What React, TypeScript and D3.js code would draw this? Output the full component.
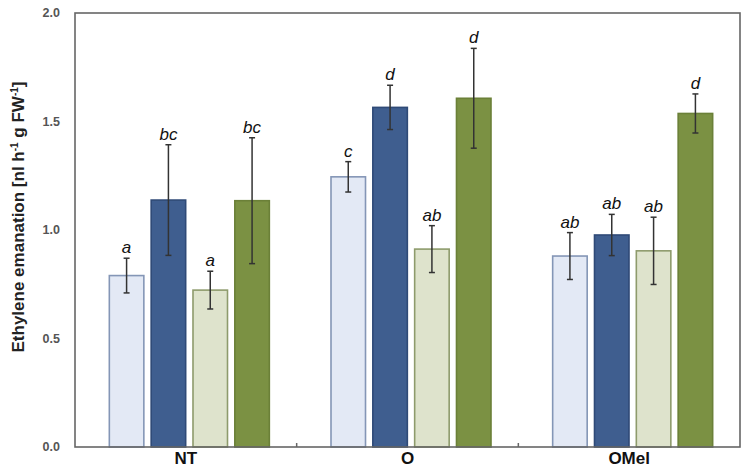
import React, { useEffect, useRef } from "react";
import * as d3 from "d3";

const width = 744;
const height = 474;
const margin = { top: 13, right: 4, bottom: 27, left: 75 };

const groups = ["NT", "O", "OMel"];
const seriesKeys = ["s1", "s2", "s3", "s4"];

// mean ethylene per treatment group, one array per series
const s1Mean = [0.79, 1.245, 0.88];
const s2Mean = [1.138, 1.565, 0.977];
const s3Mean = [0.723, 0.912, 0.904];
const s4Mean = [1.135, 1.607, 1.537];

const s1Err = [0.08, 0.07, 0.108];
const s2Err = [0.255, 0.102, 0.095];
const s3Err = [0.087, 0.108, 0.155];
const s4Err = [0.29, 0.23, 0.09];

const s1Letters = ["a", "c", "ab"];
const s2Letters = ["bc", "d", "ab"];
const s3Letters = ["a", "ab", "ab"];
const s4Letters = ["bc", "d", "d"];

const yTicks = [0, 0.5, 1.0, 1.5, 2.0];

const fills = ["#e3e9f5", "#3f5e8f", "#dee3cc", "#7b9143"];
const strokes = ["#8496b6", "#2f4a77", "#8e9b6c", "#6b8038"];

const font = "Liberation Sans, Arial, sans-serif";

const App = () => {
  const ref = useRef<SVGSVGElement>(null);

  useEffect(() => {
    const svg = d3.select(ref.current);
    svg.selectAll("*").remove();

    const means = [s1Mean, s2Mean, s3Mean, s4Mean];
    const errs = [s1Err, s2Err, s3Err, s4Err];
    const letters = [s1Letters, s2Letters, s3Letters, s4Letters];

    const rows = groups.flatMap((g, gi) =>
      seriesKeys.map((k, si) => ({
        group: g,
        key: k,
        si,
        value: means[si][gi],
        err: errs[si][gi],
        letter: letters[si][gi],
      }))
    );

    const x0 = d3
      .scaleBand()
      .domain(groups)
      .range([margin.left, width - margin.right])
      .padding(0);
    // inner band: 4 bars, 33px wide on a 40px step
    const x1 = d3
      .scaleBand()
      .domain(seriesKeys)
      .range([0, 160])
      .paddingInner(7 / 40)
      .paddingOuter(0);
    const groupOffset = (x0.bandwidth() - 160 + 7) / 2;

    const y = d3
      .scaleLinear()
      .domain([0, 2])
      .range([height - margin.bottom, margin.top]);

    const bx = (d) => x0(d.group) + groupOffset + x1(d.key);

    // bars
    svg
      .append("g")
      .selectAll("rect")
      .data(rows)
      .join("rect")
      .attr("x", (d) => bx(d))
      .attr("y", (d) => y(d.value))
      .attr("width", x1.bandwidth())
      .attr("height", (d) => y(0) - y(d.value))
      .attr("fill", (d) => fills[d.si])
      .attr("stroke", (d) => strokes[d.si])
      .attr("stroke-width", 1.6);

    // error bars
    const eb = svg
      .append("g")
      .attr("stroke", "#333")
      .attr("stroke-width", 1.5)
      .selectAll("g")
      .data(rows)
      .join("g")
      .attr("transform", (d) => `translate(${bx(d) + x1.bandwidth() / 2},0)`);
    eb.append("line")
      .attr("y1", (d) => y(d.value + d.err))
      .attr("y2", (d) => y(d.value - d.err));
    eb.append("line")
      .attr("x1", -3)
      .attr("x2", 3)
      .attr("y1", (d) => y(d.value + d.err))
      .attr("y2", (d) => y(d.value + d.err));
    eb.append("line")
      .attr("x1", -3)
      .attr("x2", 3)
      .attr("y1", (d) => y(d.value - d.err))
      .attr("y2", (d) => y(d.value - d.err));

    // significance letters
    svg
      .append("g")
      .selectAll("text")
      .data(rows)
      .join("text")
      .attr("x", (d) => bx(d) + x1.bandwidth() / 2)
      .attr("y", (d) => y(d.value + d.err) - 5)
      .attr("text-anchor", "middle")
      .attr("font-family", font)
      .attr("font-style", "italic")
      .attr("font-size", 17)
      .attr("fill", "#111")
      .text((d) => d.letter);

    // frame
    svg
      .append("rect")
      .attr("x", margin.left)
      .attr("y", margin.top)
      .attr("width", width - margin.right - margin.left)
      .attr("height", height - margin.bottom - margin.top)
      .attr("fill", "none")
      .attr("stroke", "#666")
      .attr("stroke-width", 1.6);

    // group separator ticks on the bottom edge
    svg
      .append("g")
      .selectAll("line")
      .data(groups.slice(1))
      .join("line")
      .attr("x1", (g) => x0(g))
      .attr("x2", (g) => x0(g))
      .attr("y1", y(0))
      .attr("y2", y(0) - 4)
      .attr("stroke", "#666")
      .attr("stroke-width", 1.5);

    // y tick labels
    svg
      .append("g")
      .selectAll("text")
      .data(yTicks)
      .join("text")
      .attr("x", margin.left - 15)
      .attr("y", (d) => y(d))
      .attr("dy", "0.35em")
      .attr("text-anchor", "end")
      .attr("font-family", font)
      .attr("font-weight", "bold")
      .attr("font-size", 12.5)
      .attr("fill", "#555")
      .text((d) => d3.format(".1f")(d));

    // x group labels
    svg
      .append("g")
      .selectAll("text")
      .data(groups)
      .join("text")
      .attr("x", (g) => x0(g) + x0.bandwidth() / 2)
      .attr("y", 464)
      .attr("text-anchor", "middle")
      .attr("font-family", font)
      .attr("font-weight", "bold")
      .attr("font-size", 17)
      .attr("fill", "#111")
      .text((g) => g);

    // y axis title
    const title = svg
      .append("text")
      .attr("transform", `translate(24,217) rotate(-90)`)
      .attr("text-anchor", "middle")
      .attr("font-family", font)
      .attr("font-weight", "bold")
      .attr("font-size", 17)
      .attr("fill", "#222");
    title.append("tspan").text("Ethylene emanation [nl h");
    title.append("tspan").attr("dy", -6).attr("font-size", 10).text("-1");
    title.append("tspan").attr("dy", 6).text(" g FW");
    title.append("tspan").attr("dy", -6).attr("font-size", 10).text("-1");
    title.append("tspan").attr("dy", 6).text("]");
  }, []);

  return (
    <div style={{ position: "absolute", left: 0, top: 0 }}>
      <svg ref={ref} width={width} height={height} style={{ display: "block", background: "#fff" }} />
    </div>
  );
};

export default App;
